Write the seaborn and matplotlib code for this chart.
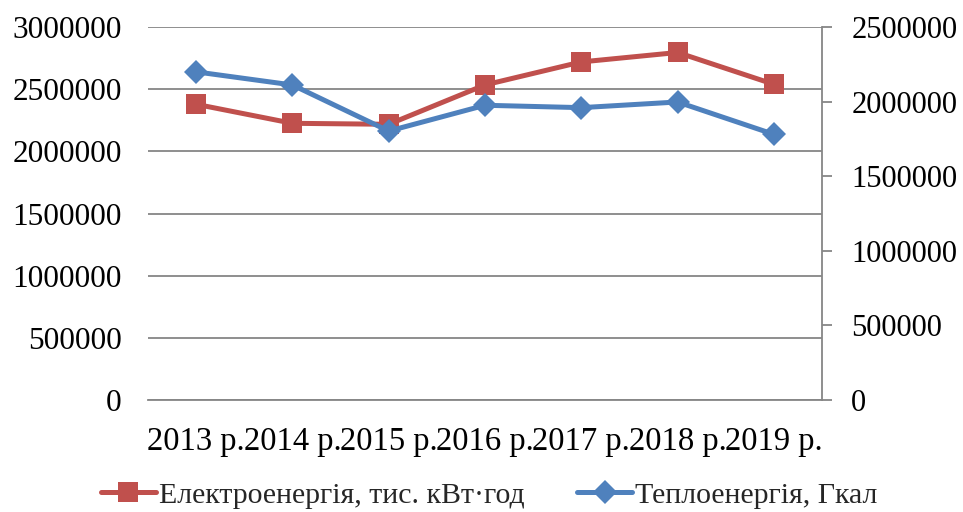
import matplotlib
matplotlib.use("Agg")
import matplotlib.pyplot as plt
import seaborn as sns
import pandas as pd
from matplotlib.lines import Line2D
from matplotlib.ticker import FuncFormatter

years = ["2013 р.", "2014 р.", "2015 р.", "2016 р.", "2017 р.", "2018 р.", "2019 р."]
electro = [2379000, 2226000, 2218000, 2535000, 2720000, 2796000, 2540000]
heat = [2200000, 2112000, 1803000, 1976000, 1960000, 1998000, 1781000]
name_e = "Електроенергія, тис. кВт·год"
name_h = "Теплоенергія, Гкал"

red = "#C0504D"
blue = "#4F81BD"
grid = "#868686"

sns.set_theme(style="white")
plt.rcParams["font.family"] = ["Liberation Serif", "DejaVu Serif"]

df = pd.DataFrame({"year": years, "e": electro, "h": heat})

fig = plt.figure(figsize=(9.63, 5.12), dpi=100)
ax = fig.add_axes([0.1537, 0.219, 0.6999, 0.728])
ax2 = ax.twinx()

sns.lineplot(data=df, x="year", y="e", ax=ax, color=red, linewidth=3.6,
             marker="s", markersize=15, markeredgewidth=0, sort=False)
sns.lineplot(data=df, x="year", y="h", ax=ax2, color=blue, linewidth=3.6,
             marker="D", markersize=12.5, markeredgewidth=0, sort=False)

ax.set_xlim(-0.5, 6.5)
ax.set_ylim(0, 3000000)
ax2.set_ylim(0, 2500000)
ax.set_yticks(range(0, 3000001, 500000))
ax2.set_yticks(range(0, 2500001, 500000))
fmt = FuncFormatter(lambda v, p: f"{int(round(v))}")
ax.yaxis.set_major_formatter(fmt)
ax2.yaxis.set_major_formatter(fmt)
ax.set_ylabel("")
ax2.set_ylabel("")
ax.set_xlabel("")

ax.yaxis.grid(True, color=grid, linewidth=1.3)
ax.set_axisbelow(True)
for s in ["left", "top"]:
    ax.spines[s].set_visible(False)
    ax2.spines[s].set_visible(False)
ax.spines["right"].set_visible(False)
ax2.spines["bottom"].set_visible(False)
ax.spines["bottom"].set_color(grid)
ax.spines["bottom"].set_linewidth(1.3)
ax2.spines["right"].set_color(grid)
ax2.spines["right"].set_linewidth(1.3)

ax.tick_params(axis="y", left=False, length=0, labelsize=22.5, pad=19, colors="black")
ax.tick_params(axis="x", bottom=False, length=0, labelsize=23.5, pad=19, colors="black")
ax2.tick_params(axis="y", right=True, length=7, width=1.3, color=grid,
                labelsize=22, pad=14, labelcolor="black")

handles = [
    Line2D([], [], color=red, linewidth=3.6, marker="s", markersize=15, markeredgewidth=0),
    Line2D([], [], color=blue, linewidth=3.6, marker="D", markersize=12.5, markeredgewidth=0),
]
fig.legend(handles, [name_e, name_h], loc="center", bbox_to_anchor=(0.508, 0.033),
           ncol=2, frameon=False, fontsize=21.5, handlelength=1.85, handletextpad=0.1,
           columnspacing=1.75)

fig.savefig("out.png", dpi=100)
